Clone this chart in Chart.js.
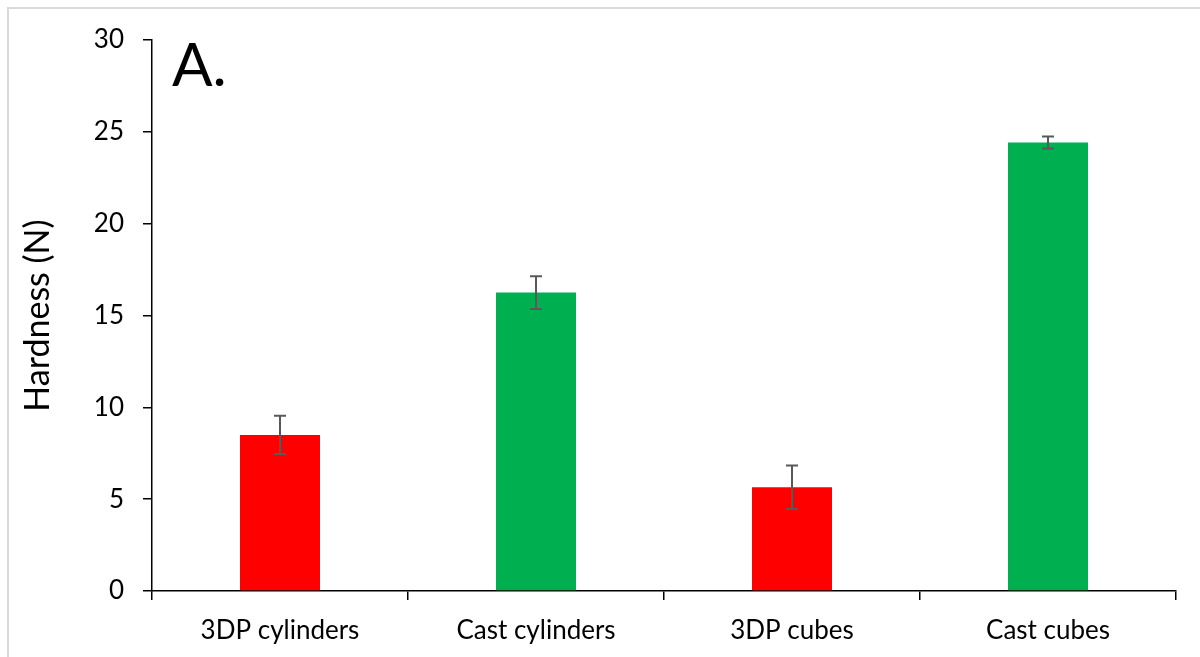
<!DOCTYPE html>
<html>
<head>
<meta charset="utf-8">
<title>Hardness</title>
<script src="https://cdn.jsdelivr.net/npm/chart.js@4.4.1/dist/chart.umd.min.js"></script>
<style>
  html, body {
    margin: 0;
    padding: 0;
    background: #ffffff;
    overflow: hidden;
  }
  .frame {
    position: absolute;
    left: 7px;
    top: 7px;
    width: 1400px;
    height: 800px;
    border: 2px solid #d9d9d9;
  }
  #hardnessChart {
    position: absolute;
    left: 0;
    top: 0;
  }
</style>
</head>
<body>
<div class="frame"></div>
<canvas id="hardnessChart" width="1200" height="657"></canvas>
<script>
const categories = ["3DP cylinders", "Cast cylinders", "3DP cubes", "Cast cubes"];
const hardness = [8.5, 16.25, 5.65, 24.42];
const hardnessError = [1.04, 0.89, 1.18, 0.33];
const barColors = ["#ff0000", "#00b050", "#ff0000", "#00b050"];
const yTicks = [0, 5, 10, 15, 20, 25, 30];

const FONT = "Lato, 'Open Sans', sans-serif";

// vertical error bars with caps, placed through the chart's own scales
const errorBars = {
  id: "errorBars",
  afterDatasetsDraw(chart) {
    const ctx = chart.ctx;
    const meta = chart.getDatasetMeta(0);
    const y = chart.scales.y;
    ctx.save();
    ctx.strokeStyle = "#595959";
    ctx.lineWidth = 2;
    meta.data.forEach((bar, i) => {
      const top = y.getPixelForValue(hardness[i] + hardnessError[i]);
      const bottom = y.getPixelForValue(hardness[i] - hardnessError[i]);
      ctx.beginPath();
      ctx.moveTo(bar.x, top);
      ctx.lineTo(bar.x, bottom);
      ctx.moveTo(bar.x - 6, top);
      ctx.lineTo(bar.x + 6, top);
      ctx.moveTo(bar.x - 6, bottom);
      ctx.lineTo(bar.x + 6, bottom);
      ctx.stroke();
    });
    ctx.restore();
  }
};

// panel letter in the top-left corner of the plot
const panelLabel = {
  id: "panelLabel",
  afterDraw(chart) {
    const ctx = chart.ctx;
    ctx.save();
    ctx.fillStyle = "#000000";
    ctx.font = "60px " + FONT;
    ctx.textAlign = "left";
    ctx.textBaseline = "alphabetic";
    ctx.fillText("A.", chart.chartArea.left + 20, 86);
    ctx.restore();
  }
};

const ctx = document.getElementById("hardnessChart");
const chart = new Chart(ctx, {
  type: "bar",
  data: {
    labels: categories,
    datasets: [
      {
        label: "Hardness (N)",
        data: hardness,
        backgroundColor: barColors,
        borderWidth: 0,
        barPercentage: 0.3125,
        categoryPercentage: 1
      }
    ]
  },
  options: {
    responsive: false,
    animation: false,
    layout: {
      padding: { left: 0, right: 24, top: 40, bottom: 0 }
    },
    plugins: {
      legend: { display: false },
      tooltip: { enabled: false }
    },
    scales: {
      x: {
        grid: {
          display: true,
          drawOnChartArea: false,
          drawTicks: true,
          tickLength: 9,
          color: "#000000",
          lineWidth: 1.5,
          offset: true
        },
        border: { display: true, color: "#000000", width: 1.5 },
        ticks: {
          color: "#000000",
          font: { family: FONT, size: 26 },
          padding: 15,
          maxRotation: 0
        },
        afterFit(scale) {
          scale.height = 66;
        }
      },
      y: {
        min: 0,
        max: 30,
        afterBuildTicks(scale) {
          scale.ticks = yTicks.map((v) => ({ value: v }));
        },
        grid: {
          display: true,
          drawOnChartArea: false,
          drawTicks: true,
          tickLength: 9,
          color: "#000000",
          lineWidth: 1.5
        },
        border: { display: true, color: "#000000", width: 1.5 },
        ticks: {
          color: "#000000",
          font: { family: FONT, size: 26 },
          padding: 19
        },
        title: {
          display: true,
          text: "Hardness (N)",
          color: "#000000",
          font: { family: FONT, size: 34 },
          padding: { top: 18, bottom: 0 }
        },
        afterFit(scale) {
          scale.width = 152;
        }
      }
    }
  },
  plugins: [errorBars, panelLabel]
});
</script>
</body>
</html>
